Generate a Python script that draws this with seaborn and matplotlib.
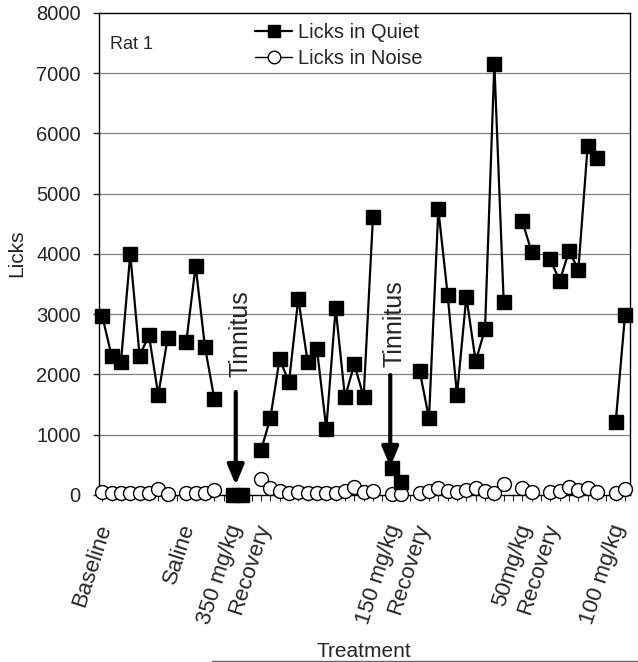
import numpy as np
import pandas as pd
import matplotlib
matplotlib.use('Agg')
import matplotlib.pyplot as plt
import seaborn as sns
from matplotlib.lines import Line2D
from matplotlib.transforms import ScaledTranslation

nan = np.nan

# licks per session, NaN = break between treatment blocks
quiet = [2970, 2310, 2200, 4000, 2310, 2650, 1660, 2600, nan,
         2540, 3800, 2460, 1600, nan,
         0, 0, nan,
         740, 1270, 2260, 1870, 3260, 2210, 2420, 1100, 3100, 1620, 2170, 1630, 4620, nan,
         440, 220, nan,
         2060, 1270, 4740, 3320, 1660, 3290, 2220, 2750, 7160, 3210, nan,
         4540, 4030, nan,
         3910, 3550, 4050, 3740, 5800, 5600, nan,
         1210, 2990]
noise = [50, 30, 40, 40, 30, 40, 100, 20, nan,
         30, 30, 40, 80, nan,
         0, 0, nan,
         270, 110, 60, 40, 50, 40, 40, 30, 40, 60, 140, 50, 60, nan,
         10, 20, nan,
         40, 70, 110, 60, 50, 80, 120, 60, 40, 190, nan,
         110, 50, nan,
         50, 70, 130, 80, 110, 50, nan,
         30, 100]

phase_labels = ['Baseline', 'Saline', '350 mg/kg', 'Recovery', '150 mg/kg',
                'Recovery', '50mg/kg', 'Recovery', '100 mg/kg']
phase_starts = [0, 9, 14, 17, 31, 34, 45, 48, 55]
tinnitus_sessions = [14, 31]
y_ticks = [0, 1000, 2000, 3000, 4000, 5000, 6000, 7000, 8000]

df = pd.DataFrame({'session': np.arange(len(quiet)), 'quiet': quiet, 'noise': noise})
df['block'] = df['quiet'].isna().cumsum()

sns.set_style('white')
plt.rcParams['font.family'] = ['Liberation Sans', 'DejaVu Sans']

fig = plt.figure(figsize=(6.38, 6.62), dpi=100)
ax = fig.add_axes([0.155, 0.2523, 0.832, 0.7281])

for v in y_ticks[1:-1]:
    ax.axhline(v, color='0.5', lw=0.9, zorder=1)

sns.lineplot(data=df.dropna(subset=['noise']), x='session', y='noise', units='block',
             estimator=None, color='black', lw=1, marker='o', markersize=10,
             markerfacecolor='white', markeredgecolor='black', markeredgewidth=1,
             ax=ax, legend=False, clip_on=False, zorder=3)
sns.lineplot(data=df.dropna(subset=['quiet']), x='session', y='quiet', units='block',
             estimator=None, color='black', lw=1.6, marker='s', markersize=10,
             markerfacecolor='black', markeredgecolor='black', markeredgewidth=1,
             ax=ax, legend=False, clip_on=False, zorder=4)

ax.set_xlim(-0.36, 56.5)
ax.set_ylim(0, 8000)
ax.set_yticks(y_ticks)
ax.set_yticklabels([str(v) for v in y_ticks], fontsize=14.5)
ax.set_xticks(phase_starts)
ax.set_xticklabels(phase_labels, rotation=72, ha='right', va='top',
                   rotation_mode='anchor', fontsize=16)
ax.set_xticks(np.arange(len(quiet)), minor=True)
ax.tick_params(axis='y', direction='out', length=4, width=1, pad=9, left=True)
ax.tick_params(axis='x', which='both', direction='out', length=4, width=0.8, bottom=True)
ax.tick_params(axis='x', which='major', pad=15)
off = ScaledTranslation(-5 / 72, 0, fig.dpi_scale_trans)
for lbl in ax.get_xticklabels():
    lbl.set_transform(lbl.get_transform() + off)

for s in ax.spines.values():
    s.set_visible(True)
    s.set_color('black')
    s.set_linewidth(1)

ax.set_xlabel('Treatment', fontsize=15)
ax.set_ylabel('Licks', fontsize=15)
ax.xaxis.set_label_coords(0.5, -0.305)
ax.yaxis.set_label_coords(-0.137, 0.502)

ax.text(0.021, 0.934, 'Rat 1', transform=ax.transAxes, fontsize=13, va='center')

# tinnitus arrows
arrow_tops = [1710, 1990]
arrow_tips = [165, 465]
text_y = [2670, 2840]
for s, top, tip, ty, dx in zip(tinnitus_sessions, arrow_tops, arrow_tips, text_y, [0.3, -0.15]):
    ax.annotate('', xy=(s + dx, tip), xytext=(s + dx, top),
                arrowprops=dict(arrowstyle='-|>,head_width=0.25,head_length=0.6',
                                mutation_scale=20, lw=3, color='black',
                                shrinkA=0, shrinkB=0), zorder=5)
    ax.text(s + dx + 0.5, ty, 'Tinnitus', rotation=90, fontsize=18,
            ha='center', va='center', zorder=5)

handles = [Line2D([], [], color='black', lw=1.6, marker='s', markersize=8,
                  markerfacecolor='black'),
           Line2D([], [], color='black', lw=1, marker='o', markersize=9,
                  markerfacecolor='white', markeredgecolor='black')]
ax.legend(handles, ['Licks in Quiet', 'Licks in Noise'], loc='upper left',
          bbox_to_anchor=(0.275, 1.0), frameon=False, fontsize=14.5,
          handlelength=1.85, handletextpad=0.3, labelspacing=0.35, borderpad=0)

fig.add_artist(Line2D([212 / 638, 1], [1 - 661 / 662] * 2, transform=fig.transFigure,
                      color='0.4', lw=1))

fig.savefig('out.png', dpi=100)
